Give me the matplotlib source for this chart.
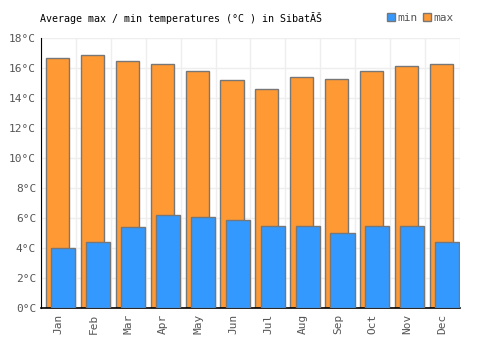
import numpy as np
import matplotlib
matplotlib.use("Agg")
import matplotlib.pyplot as plt
from matplotlib.patches import Patch

months = ["Jan", "Feb", "Mar", "Apr", "May", "Jun", "Jul", "Aug", "Sep", "Oct", "Nov", "Dec"]
t_max = [16.7, 16.9, 16.45, 16.3, 15.8, 15.2, 14.6, 15.4, 15.3, 15.8, 16.15, 16.3]
t_min = [4.0, 4.4, 5.4, 6.2, 6.1, 5.9, 5.45, 5.5, 5.0, 5.45, 5.5, 4.4]

plt.rcParams['font.family'] = ['DejaVu Sans Mono']
orange = "#ff9933"
blue = "#3399ff"

fig = plt.figure(figsize=(5, 3.5), dpi=100)
ax = fig.add_axes([0.082, 0.12, 0.838, 0.771])

x = np.arange(len(months))
ax.bar(x + 0.47, t_max, width=0.66, color=orange, edgecolor="#777777", linewidth=1, zorder=2)
ax.bar(x + 0.635, t_min, width=0.69, color=blue, edgecolor="#777777", linewidth=1, zorder=3)

ax.set_xlim(0, 12)
ax.set_ylim(0, 18)
ax.set_yticks(range(0, 19, 2))
ax.set_yticklabels([f"{v}°C" for v in range(0, 19, 2)])
ax.set_xticks(x + 0.5)
ax.set_xticklabels(months, rotation=90)
ax.set_xticks(np.arange(0, 13), minor=True)
ax.grid(axis="y", which="major", color="#eeeeee", linewidth=1, zorder=0)
ax.grid(axis="x", which="minor", color="#eeeeee", linewidth=1, zorder=0)
ax.tick_params(axis="both", which="both", length=0, labelsize=8, colors="#555555")
ax.tick_params(axis="x", pad=4)
for s in ["top", "right"]:
    ax.spines[s].set_visible(False)
ax.spines["left"].set_color("black")
ax.spines["bottom"].set_color("black")
ax.spines["bottom"].set_linewidth(1.2)

fig.text(0.08, 0.948, "Average max / min temperatures (°C ) in SibatĂŠ", fontsize=7.2, color="black", va="center")
handles = [Patch(facecolor=blue, edgecolor="#777777", label="min"),
           Patch(facecolor=orange, edgecolor="#777777", label="max")]
fig.legend(handles=handles, loc="center right", bbox_to_anchor=(0.918, 0.948), ncol=2, frameon=False,
           fontsize=8, handlelength=0.7, handleheight=0.7, handletextpad=0.2, columnspacing=0.5,
           labelcolor="#555555", borderpad=0)

fig.savefig("out.png", dpi=100)
